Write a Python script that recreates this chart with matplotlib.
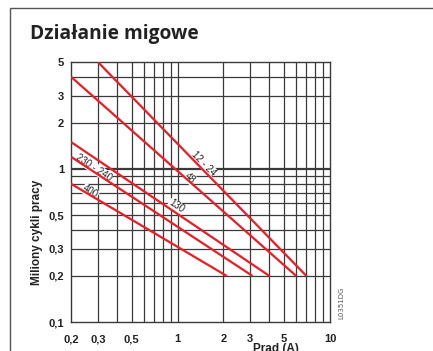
import numpy as np
import matplotlib
matplotlib.use("Agg")
import matplotlib.pyplot as plt
from matplotlib.patches import Rectangle

# ------------------------------------------------------------
# Curve data: current (A) vs. millions of switching cycles
# ------------------------------------------------------------
curve_labels = ["12 - 24", "48", "130", "230 - 240", "400"]
current_start = [0.3, 0.2, 0.2, 0.2, 0.2]
current_end = [7.0, 6.0, 4.0, 3.1, 2.1]
cycles_start = [5.0, 4.0, 1.5, 1.2, 0.8]
cycles_end = [0.2, 0.2, 0.2, 0.2, 0.2]

# where each curve label sits
label_x = [1.49, 1.22, 0.99, 0.283, 0.27]
label_y = [1.10, 0.879, 0.577, 1.035, 0.718]

x_ticks = [0.2, 0.3, 0.5, 1, 2, 3, 5, 10]
x_tick_labels = ["0,2", "0,3", "0,5", "1", "2", "3", "5", "10"]
y_ticks = [0.1, 0.2, 0.3, 0.5, 1, 2, 3, 5]
y_tick_labels = ["0,1", "0,2", "0,3", "0,5", "1", "2", "3", "5"]

RED = "#ee1c25"
GRID = "#3a3a3a"
TEXT = "#222222"

fig = plt.figure(figsize=(4.33, 3.51), dpi=100)
ax = fig.add_axes([71 / 433, 29 / 351, 259 / 433, 260 / 351])
ax.set_xscale("log")
ax.set_yscale("log")
ax.set_xlim(0.2, 10)
ax.set_ylim(0.1, 5)

# log grid drawn by hand so every line runs edge to edge
x_grid = [0.3, 0.4, 0.5, 0.6, 0.7, 0.8, 0.9, 1, 2, 3, 4, 5, 6, 7, 8, 9]
y_grid = [0.2, 0.3, 0.4, 0.5, 0.6, 0.7, 0.8, 0.9, 1, 2, 3, 4]
for gx in x_grid:
    ax.axvline(gx, color=GRID, lw=0.9, zorder=1)
for gy in y_grid:
    ax.axhline(gy, color=GRID, lw=1.6 if gy == 1 else 0.9, zorder=1)
for side in ax.spines.values():
    side.set_color(GRID)
    side.set_linewidth(1.0)

for i in range(len(curve_labels)):
    ax.plot([current_start[i], current_end[i]], [cycles_start[i], cycles_end[i]],
            color=RED, lw=1.6, zorder=3, solid_capstyle="butt")

# labels follow the slope of their curve, white box hides the grid behind
fig.canvas.draw()
for i in range(len(curve_labels)):
    p0 = ax.transData.transform((current_start[i], cycles_start[i]))
    p1 = ax.transData.transform((current_end[i], cycles_end[i]))
    angle = np.degrees(np.arctan2(p1[1] - p0[1], p1[0] - p0[0]))
    ax.text(label_x[i], label_y[i], curve_labels[i], rotation=angle,
            rotation_mode="anchor", ha="center", va="center_baseline",
            fontsize=7, family="Liberation Sans", color=TEXT, zorder=2,
            bbox=dict(boxstyle="square,pad=0.05", fc="white", ec="none"))

ax.set_xticks(x_ticks)
ax.set_xticklabels(x_tick_labels)
ax.set_yticks(y_ticks)
ax.set_yticklabels(y_tick_labels)
ax.minorticks_off()
ax.tick_params(axis="both", length=0, labelsize=8)
ax.tick_params(axis="x", pad=9)
ax.tick_params(axis="y", pad=5)
for lbl in ax.get_xticklabels() + ax.get_yticklabels():
    lbl.set_fontweight("bold")
    lbl.set_family("Liberation Sans")
    lbl.set_color(TEXT)

fig.text(37 / 433, 1 - 232 / 351, "Miliony cykli pracy", rotation=90,
         ha="center", va="center", fontsize=8.5, fontweight="bold",
         family="Liberation Sans", color=TEXT)
fig.text(276 / 433, 1 - 349 / 351, "Prąd (A)", ha="center", va="center",
         fontsize=8.5, fontweight="bold", family="Liberation Sans", color=TEXT)
fig.text(341 / 433, 1 - 303 / 351, "L0351DG", rotation=90, ha="center",
         va="center", fontsize=5, family="Liberation Sans Narrow", color="#555555")

fig.text(30 / 433, 1 - 39 / 351, "Działanie migowe", ha="left", va="baseline",
         fontsize=13.8, fontweight="bold", family="Open Sans", color=TEXT)

# outer frame, running off the right and bottom edges
fig.patches.append(Rectangle((10 / 433, -0.2), 1.2, 1.2 - 8 / 351,
                             transform=fig.transFigure, fill=False,
                             ec="#555555", lw=1.0))

fig.savefig("out.png", dpi=100)
